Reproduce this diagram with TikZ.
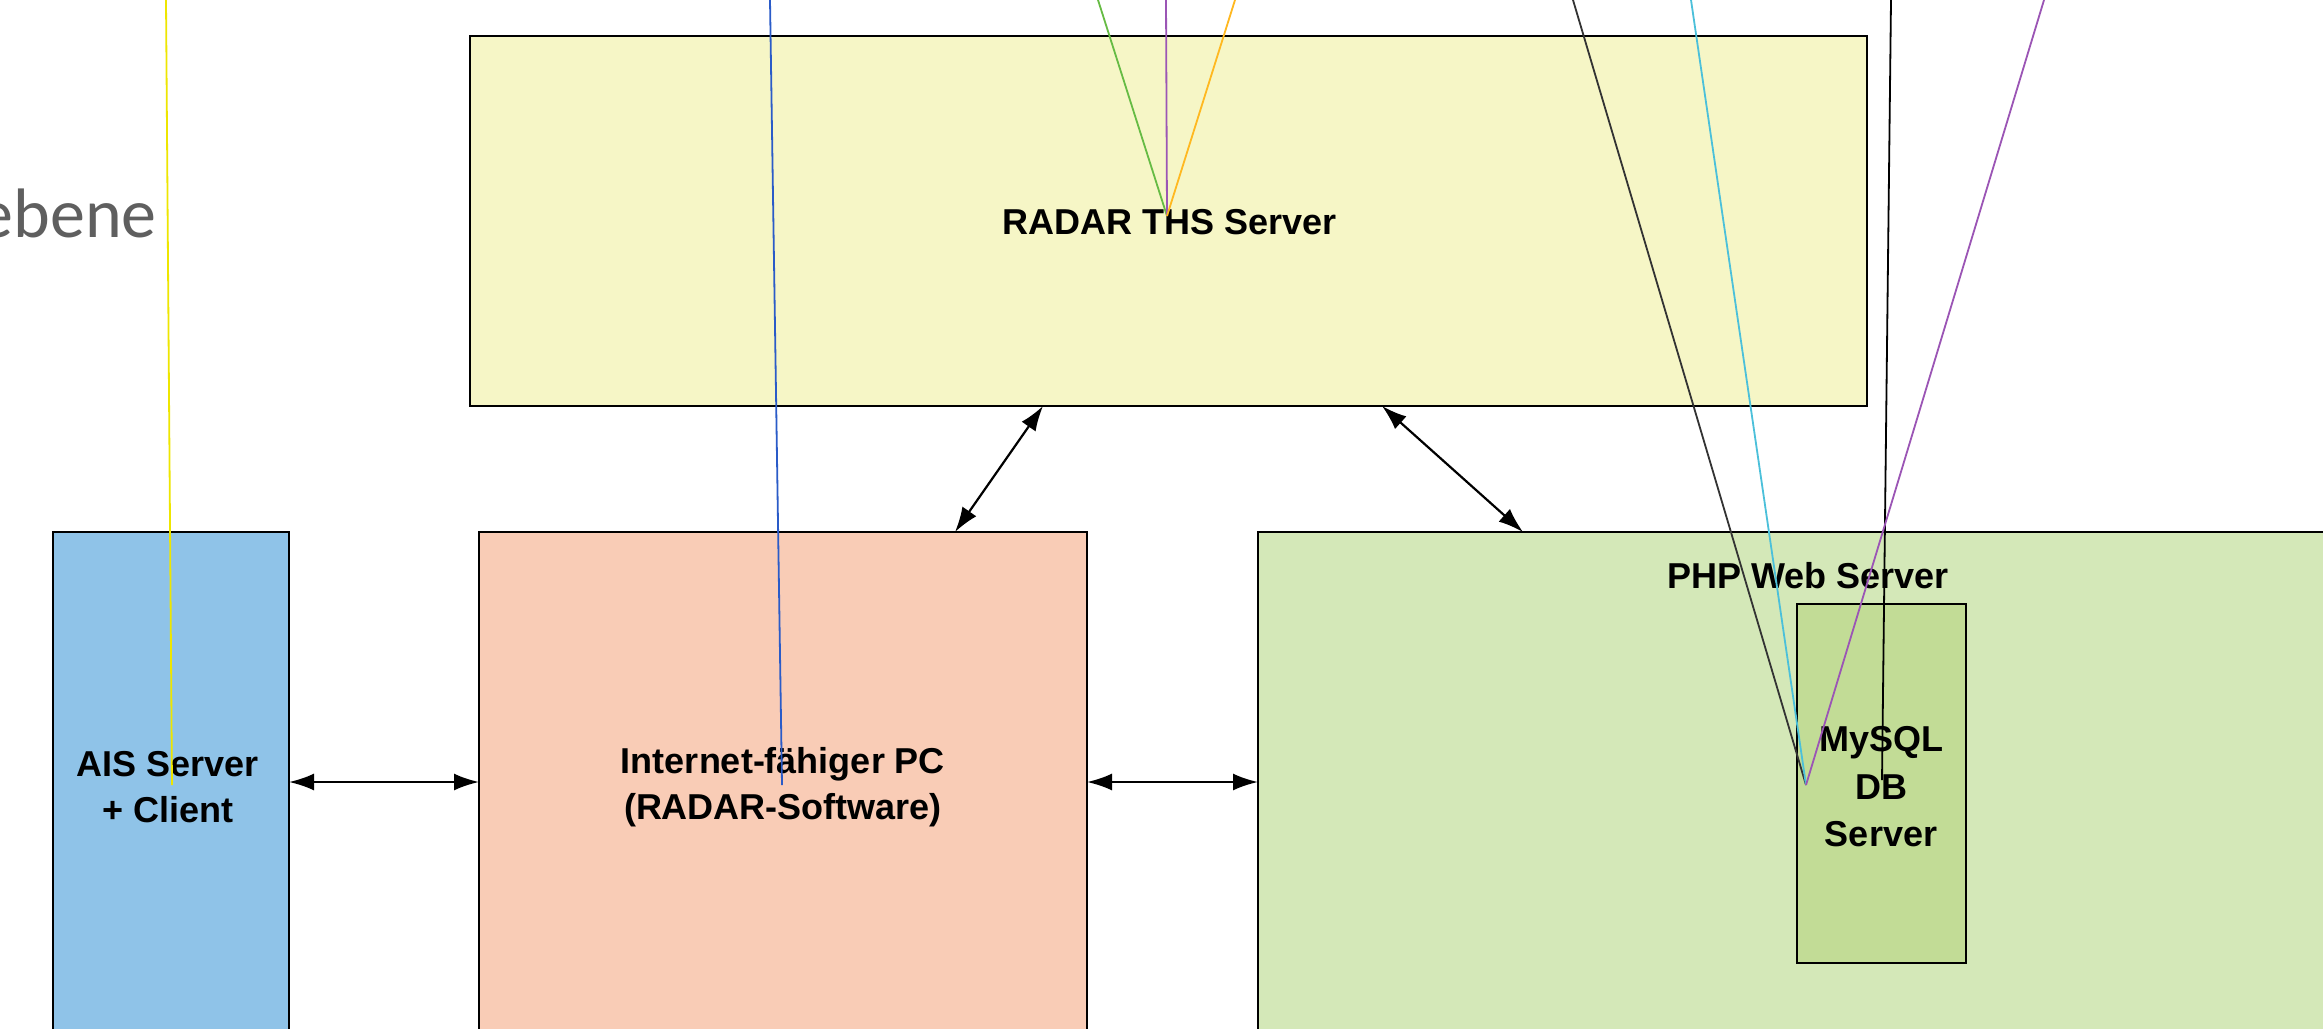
\documentclass[tikz,border=0pt]{standalone}
\usepackage{fontspec}
\setmainfont{Liberation Sans}
\newfontfamily\notefont{Carlito}
\usetikzlibrary{arrows.meta,calc}

\definecolor{radarfill}{HTML}{F6F6C6}
\definecolor{aisfill}{HTML}{8FC3E8}
\definecolor{pcfill}{HTML}{F9CCB6}
\definecolor{phpfill}{HTML}{D4E8B8}
\definecolor{dbfill}{HTML}{C2DC96}
\definecolor{notegray}{HTML}{5F5F5F}
\definecolor{penyellow}{HTML}{EEE600}
\definecolor{penblue}{HTML}{2A5BC8}
\definecolor{pengreen}{HTML}{66BB44}
\definecolor{penpurple}{HTML}{9B55B5}
\definecolor{penorange}{HTML}{FFB820}
\definecolor{pencyan}{HTML}{4BC0DA}
\definecolor{pendark}{HTML}{333333}

\begin{document}
\begin{tikzpicture}[x=1pt,y=-1pt,
  box/.style={draw=black, line width=2.2pt, inner sep=0pt, outer sep=0pt},
  lbl/.style={font=\bfseries\fontsize{36}{46}\selectfont, align=center, inner sep=0pt},
  link/.style={line width=2.2pt, {Latex[length=25pt,width=17pt]}-{Latex[length=25pt,width=17pt]}},
  pen/.style={line width=1.8pt}]

\useasboundingbox (0,0) rectangle (2323,1028);
\fill[white] (0,0) rectangle (2323,1028);

% layer caption
\node[anchor=base east, text=notegray, inner sep=0pt,
      font=\notefont\fontsize{70}{80}\selectfont] (layer) at (157,237) {ebene};

% boxes
\node[box, fill=radarfill, minimum width=1397pt, minimum height=370pt] (radar) at (1168.5,221) {};
\node[box, fill=aisfill, minimum width=236pt, minimum height=600pt, anchor=north west] (ais) at (53,532) {};
\node[box, fill=pcfill, minimum width=608pt, minimum height=600pt, anchor=north west] (pc) at (479,532) {};
\node[box, fill=phpfill, minimum width=1200pt, minimum height=600pt, anchor=north west] (php) at (1258,532) {};
\node[box, line width=1.8pt, fill=dbfill, minimum width=169pt, minimum height=359pt, anchor=north west] (db) at (1797,604) {};

% labels
\node[lbl] (radarlbl) at (1170,222) {RADAR THS Server};
\node[lbl] (aislbl) at (168,787) {AIS Server\\+ Client};
\node[lbl] (pclbl) at (783,787) {Internet-fähiger PC\\(RADAR-Software)};
\node[lbl] (phplbl) at (1808,576) {PHP Web Server};
\node[lbl, font=\bfseries\fontsize{36}{47.5}\selectfont] (dblbl) at (1881,787) {MySQL\\DB\\Server};

% links
\coordinate (row) at (0,782);
\draw[link] (ais.east |- row) -- (pc.west |- row);
\draw[link] (pc.east |- row) -- (php.west |- row);
\draw[link] ([xshift=-125.5pt]radar.south) -- ([xshift=172pt]pc.north);
\draw[link] ([xshift=213.5pt]radar.south) -- ([xshift=265pt]php.north west);

% pen strokes
\coordinate (ytop) at (166,0);   \coordinate (yend) at (172,785);
\coordinate (btop) at (770,0);   \coordinate (bend) at (782,785);
\coordinate (gtop) at (1098,0);
\coordinate (ptop) at (1166,0);
\coordinate (otop) at (1235,0);  \coordinate (rpin) at (1167,216);
\coordinate (dtop) at (1573,0);
\coordinate (ctop) at (1691,0);
\coordinate (qtop) at (2044,0);  \coordinate (dbpin) at (1806,785);
\coordinate (ktop) at (1891,0);  \coordinate (kend) at (1882,780);

\draw[pen, penyellow] (ytop) -- (yend);
\draw[pen, penblue] (btop) -- (bend);
\draw[pen, pengreen] (gtop) -- (rpin);
\draw[pen, penpurple] (ptop) -- (rpin);
\draw[pen, penorange] (otop) -- (rpin);
\draw[pen, pendark] (dtop) -- (dbpin);
\draw[pen, pencyan] (ctop) -- (dbpin);
\draw[pen, black] (ktop) -- (kend);
\draw[pen, penpurple] (qtop) -- (dbpin);
\end{tikzpicture}
\end{document}
